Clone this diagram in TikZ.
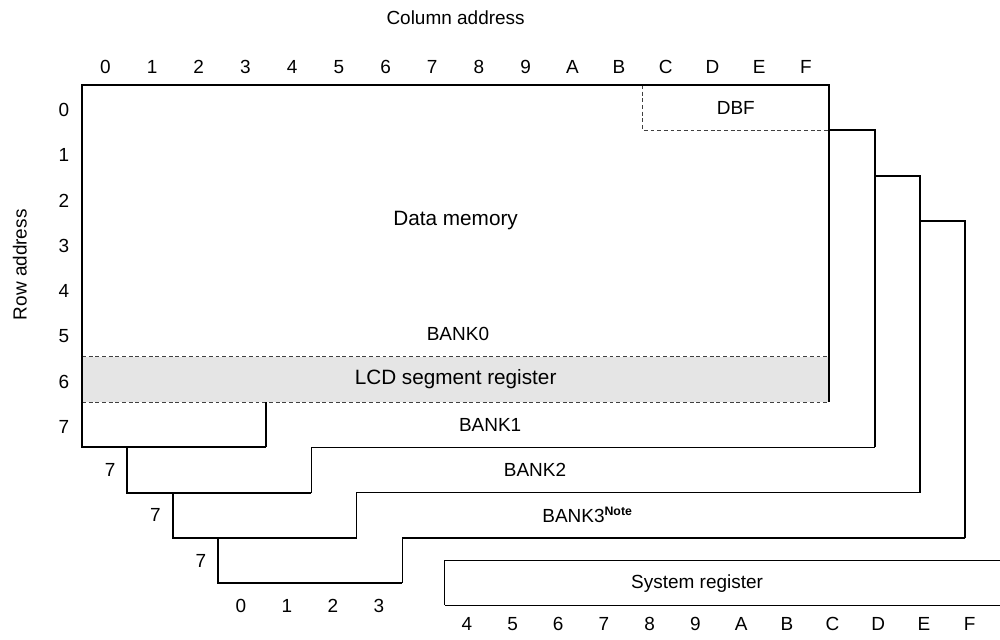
\documentclass[tikz,border=0pt]{standalone}
\usepackage{fontspec}
\setmainfont{Liberation Sans}
\begin{document}
\begin{tikzpicture}[x=0.934cm, y=-0.906cm,
        every node/.style={font=\fontsize{10.8}{12}\selectfont},
        big/.style={font=\fontsize{11.8}{13}\selectfont},
        bold/.style={line width=1.1pt},
        fine/.style={line width=0.6pt},
        dashline/.style={line width=0.5pt, black!75, dash pattern=on 2.2pt off 1.6pt}]
        \useasboundingbox (-1.756,-1.876) rectangle (19.657,12.23);

        % LCD segment register and DBF areas
        \fill[black!10] (0,6) rectangle (16,7);
        \draw[dashline] (0,6) -- (16,6);
        \draw[dashline] (0,7) -- (16,7);
        \draw[dashline] (12,0) -- (12,1) -- (16,1);

        % BANK0 outline
        \draw[bold] (16,7) -- (16,0) -- (0,0) -- (0,8) -- (3.94,8);
        \draw[fine] (3.94,8) -- (3.94,7);

        % BANK1 .. BANK3, each one step down and right
        \foreach \k in {1,2,3} {
            \pgfmathsetmacro{\dx}{0.972*\k}
            \pgfmathsetmacro{\px}{0.972*(\k-1)}
            \draw[bold] (16+\px,\k) -- (16+\dx,\k) -- (16+\dx,7+\k);
            \draw[fine] (16+\dx,7+\k) -- (3.94+\dx,7+\k) -- (3.94+\dx,8+\k);
            \draw[bold] (3.94+\dx,8+\k) -- (\dx,8+\k) -- (\dx,7+\k);
            \node (seven\k) at (\dx-0.37,7.5+\k) {7};
        }

        % System register
        \draw[fine] (19.657,10.5) -- (7.77,10.5) -- (7.77,11.49);
        \draw[bold] (7.77,11.49) -- (19.657,11.49);
        \node (sysreg) at (13.17,11) {System register};

        % Address labels
        \node (coladdr) at (8,-1.48) {Column address};
        \node[rotate=90] (rowaddr) at (-1.33,3.97) {Row address};
        \foreach \c/\t in {0/0,1/1,2/2,3/3,4/4,5/5,6/6,7/7,8/8,9/9,10/A,11/B,12/C,13/D,14/E,15/F}
            \node (col\c) at (\c+0.5,-0.4) {\t};
        \foreach \r in {0,...,7}
            \node (row\r) at (-0.39,\r+0.55) {\r};
        \foreach \c in {0,...,3}
            \node (low\c) at (3.4+0.985*\c,11.5) {\c};
        \foreach \c/\t [count=\i from 0] in {4/4,5/5,6/6,7/7,8/8,9/9,10/A,11/B,12/C,13/D,14/E,15/F}
            \node (sys\c) at (8.24+0.979*\i,11.9) {\t};

        % Area names
        \node (dbf) at (14,0.5) {DBF};
        \node[big] (datamem) at (8,3) {Data memory};
        \node (bank0) at (8.05,5.5) {BANK0};
        \node[big] (lcd) at (8,6.5) {LCD segment register};
        \node (bank1) at (8.74,7.5) {BANK1};
        \node (bank2) at (9.7,8.5) {BANK2};
        \node[anchor=west, inner sep=0pt] (bank3) at (9.85,9.5)
            {BANK3\textsuperscript{\fontsize{7}{8}\selectfont\bfseries Note}};
    \end{tikzpicture}
\end{document}
